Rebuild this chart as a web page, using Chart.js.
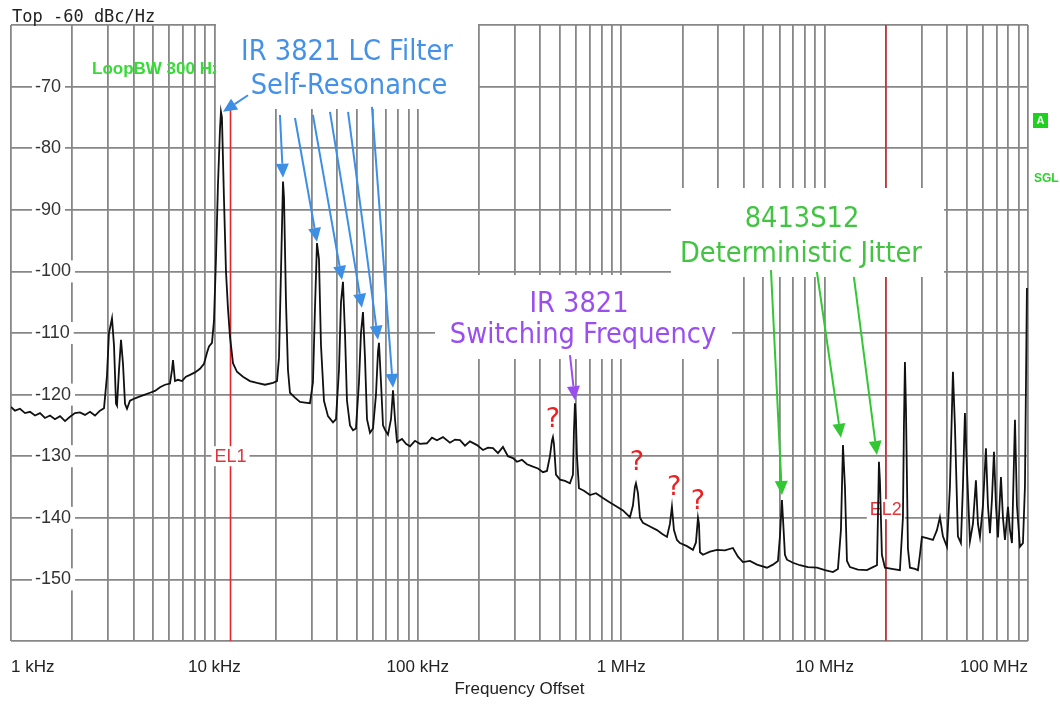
<!DOCTYPE html>
<html lang="en">
<head>
<meta charset="UTF-8">
<title>Phase noise – Frequency Offset</title>
<script src="https://cdn.jsdelivr.net/npm/chart.js"></script>
<style>
  html, body { margin: 0; padding: 0; background: #fff; }
  #wrap { width: 1060px; height: 704px; position: relative; }
</style>
</head>
<body>
<div id="wrap"><canvas id="pn"></canvas></div>
<script>
// trace: offset frequency (Hz) and level (dBc/Hz)
const freqHz = [
  1000, 1046, 1107, 1172, 1240, 1312, 1389, 1469, 1555, 1645, 1742, 1843, 1950, 2063, 2183, 2311, 2446, 2588, 2738, 2866,
  2963, 3032, 3137, 3209, 3283, 3320, 3396, 3474, 3553, 3635, 3718, 3846, 4070, 4307, 4558, 4824, 5104, 5402, 5716, 6048,
  6187, 6258, 6401, 6622, 6930, 7245, 7586, 8026, 8493, 8889, 9193, 9405, 9730, 9952, 10180, 10410, 10650, 10770, 10890, 11140,
  11400, 11660, 11930, 12340, 12910, 13820, 14960, 16190, 17730, 19410, 20310, 20780, 21250, 21740, 21990, 22490, 23000, 23530, 24890, 26350,
  27880, 29500, 30520, 31220, 31940, 32670, 33420, 34570, 36170, 38280, 39600, 40970, 41910, 42870, 43850, 44860, 46410, 48010, 49660, 51380,
  52550, 53770, 55000, 56260, 58200, 60210, 62290, 63720, 64450, 65920, 67440, 68990, 71370, 73830, 75520, 77250, 79030, 83630, 87490, 91530,
  96850, 102500, 110900, 117400, 124200, 133000, 143900, 152300, 161200, 170600, 180500, 195400, 209100, 221300, 234200, 247800, 262200, 277500, 293700, 307300,
  325200, 344200, 368300, 389700, 412400, 431500, 446400, 456600, 461800, 467100, 477800, 500000, 529100, 559900, 579100, 585700, 592400, 599100, 606000, 619900,
  656000, 702200, 751600, 813400, 880600, 953200, 1020000, 1104000, 1142000, 1168000, 1182000, 1209000, 1237000, 1279000, 1385000, 1499000, 1586000, 1679000, 1736000, 1776000,
  1817000, 1880000, 1945000, 2105000, 2253000, 2331000, 2385000, 2412000, 2439000, 2523000, 2732000, 2956000, 3236000, 3543000, 3750000, 3967000, 4296000, 4650000, 5207000, 5572000,
  5897000, 6032000, 6170000, 6240000, 6383000, 6530000, 6989000, 7565000, 8283000, 9170000, 10040000, 10990000, 11630000, 12030000, 12310000, 12590000, 12880000, 13320000, 14580000, 16150000,
  17290000, 18090000, 18290000, 18500000, 18710000, 19130000, 19800000, 21430000, 23460000, 24270000, 24550000, 24830000, 25110000, 25690000, 26280000, 27810000, 28770000, 29420000, 30100000, 31850000,
  34090000, 35670000, 36900000, 38170000, 39940000, 41320000, 42750000, 43720000, 45230000, 46790000, 47860000, 48970000, 50090000, 51830000, 53610000, 55460000, 56740000, 58050000, 60050000, 62120000,
  63540000, 65000000, 66490000, 68020000, 69580000, 71170000, 73630000, 75320000, 77040000, 79700000, 81530000, 83400000, 86280000, 88250000, 91290000, 94430000, 96590000, 98800000
];
const levelDbc = [
  -122.0, -122.6, -122.3, -123.0, -122.8, -123.4, -123.0, -123.8, -123.4, -124.0, -123.5, -124.3, -123.6, -123.0, -122.9, -123.3, -122.8, -123.4, -122.6, -122.2,
  -117.0, -110.0, -107.6, -112.0, -121.5, -121.8, -116.0, -111.1, -115.0, -121.5, -122.3, -121.0, -120.6, -120.3, -120.0, -119.7, -119.4, -118.8, -118.4, -118.2,
  -116.0, -114.4, -117.8, -117.6, -117.8, -117.1, -116.8, -116.4, -115.8, -115.0, -113.2, -112.2, -111.6, -108.0, -98.0, -86.0, -77.0, -74.1, -75.0, -88.0,
  -100.0, -106.0, -110.6, -114.9, -116.3, -117.1, -117.8, -118.1, -118.4, -118.1, -117.8, -114.0, -100.0, -85.4, -88.0, -105.0, -116.0, -119.7, -120.5, -121.2,
  -121.3, -121.4, -118.0, -106.0, -95.4, -98.0, -112.0, -121.0, -123.5, -124.5, -124.0, -116.0, -105.0, -101.7, -110.0, -121.0, -125.0, -125.8, -125.5, -118.0,
  -110.0, -106.6, -114.0, -124.0, -126.2, -125.5, -120.0, -113.0, -111.6, -118.0, -125.0, -125.7, -126.5, -124.0, -119.3, -124.0, -127.7, -127.2, -128.0, -128.4,
  -127.5, -128.0, -127.9, -127.0, -127.4, -126.9, -127.8, -127.3, -127.4, -128.3, -127.6, -128.2, -129.0, -128.6, -128.7, -129.5, -128.5, -130.0, -130.3, -130.9,
  -130.6, -131.3, -131.7, -132.0, -132.6, -132.4, -130.0, -127.5, -126.9, -128.0, -133.0, -133.8, -134.0, -134.4, -133.0, -126.0, -121.4, -124.0, -130.0, -135.2,
  -135.6, -136.3, -136.0, -136.8, -137.5, -138.2, -138.8, -139.9, -138.0, -135.0, -134.4, -136.0, -140.0, -140.8, -141.4, -142.0, -142.6, -143.1, -141.0, -138.2,
  -142.0, -143.6, -144.1, -144.6, -145.2, -144.0, -140.0, -141.0, -145.6, -146.0, -145.5, -145.2, -145.3, -144.9, -146.3, -147.2, -147.0, -147.6, -148.1, -147.6,
  -147.0, -143.0, -137.1, -140.0, -146.0, -146.8, -147.3, -147.7, -148.0, -148.1, -148.5, -148.8, -148.3, -142.0, -128.2, -135.0, -147.0, -148.0, -148.4, -148.5,
  -148.0, -147.7, -140.0, -130.9, -134.0, -146.0, -148.1, -148.3, -148.5, -140.0, -125.0, -114.7, -122.0, -145.0, -148.1, -148.3, -148.5, -146.0, -143.1, -143.3,
  -143.6, -142.0, -139.9, -143.0, -144.7, -135.0, -116.3, -125.0, -143.0, -144.1, -135.0, -123.0, -132.0, -143.8, -141.0, -133.9, -141.0, -143.1, -138.0, -128.7,
  -138.0, -142.5, -137.0, -129.3, -138.0, -143.2, -133.4, -140.0, -143.6, -138.2, -142.0, -144.1, -124.1, -138.0, -144.7, -144.1, -135.0, -102.7
];

// axis labelling
const decadeTicks = [1e3, 1e4, 1e5, 1e6, 1e7, 1e8];
const decadeLabels = ['1 kHz', '10 kHz', '100 kHz', '1 MHz', '10 MHz', '100 MHz'];
const levelMin = -160;
const levelMax = -60;

// integration markers
const markerFreqs = [12e3, 20e6];
const markerNames = ['EL1', 'EL2'];
const markerLabelDb = [-130, -138.6];

// annotation arrows, [tail Hz, tail dB, head Hz, head dB]
const lcArrows = [
  [14630, -71.4, 11020, -74.1],
  [21000, -74.6, 21740, -84.8],
  [24900, -75.1, 31940, -95.2],
  [30500, -74.6, 42400, -101.4],
  [37000, -74.1, 53100, -105.9],
  [45400, -74.1, 63700, -111.1],
  [59500, -73.3, 75500, -118.9]
];
const swArrows = [[560000, -113.6, 592400, -120.9]];
const jitterArrows = [
  [5450000, -99.8, 6170000, -136.3],
  [9170000, -100.1, 12030000, -127.0],
  [13930000, -100.9, 18090000, -129.8]
];
// unexplained spurs ("?"), centre of the mark
const qFreqs = [462000, 1195000, 1820000, 2385000];
const qDb = [-124.1, -131.1, -135.2, -137.4];

const SANS = '"Liberation Sans", Arial, sans-serif';
const VERD = '"DejaVu Sans", Verdana, sans-serif';

// white patches behind the callouts (canvas px: x, y, w, h)
const patches = [
  [216, 0, 262, 109],
  [671, 188, 273, 89],
  [435, 275, 297, 84]
];

const gridFreqs = [];
for (let d = 1e3; d < 1e8; d *= 10) {
  for (let m = 1; m < 10; m++) gridFreqs.push(m * d);
}
gridFreqs.push(1e8);

function yLabel(v) {
  return (v === levelMin || v === levelMax) ? '' : String(v);
}

function arrow(ctx, x1, y1, x2, y2, color) {
  const a = Math.atan2(y2 - y1, x2 - x1);
  const head = 14, half = 6.5;
  const bx = x2 - head * Math.cos(a), by = y2 - head * Math.sin(a);
  ctx.strokeStyle = color;
  ctx.fillStyle = color;
  ctx.lineWidth = 2;
  ctx.beginPath();
  ctx.moveTo(x1, y1);
  ctx.lineTo(bx, by);
  ctx.stroke();
  ctx.beginPath();
  ctx.moveTo(x2, y2);
  ctx.lineTo(bx + half * Math.sin(a), by - half * Math.cos(a));
  ctx.lineTo(bx - half * Math.sin(a), by + half * Math.cos(a));
  ctx.closePath();
  ctx.fill();
}

function callout(ctx, text, cx, base, color) {
  ctx.save();
  ctx.translate(cx, base);
  ctx.scale(0.92, 1);
  ctx.font = '28px ' + VERD;
  ctx.fillStyle = color;
  ctx.textAlign = 'center';
  ctx.textBaseline = 'alphabetic';
  ctx.fillText(text, 0, 0);
  ctx.restore();
}

const overlay = {
  id: 'overlay',
  beforeDatasetsDraw(chart) {
    const {ctx, chartArea: area, scales: {x, y}} = chart;
    ctx.save();
    // EL markers
    ctx.strokeStyle = '#e3262e';
    ctx.lineWidth = 1.6;
    markerFreqs.forEach(f => {
      const px = x.getPixelForValue(f);
      ctx.beginPath();
      ctx.moveTo(px, area.top);
      ctx.lineTo(px, area.bottom);
      ctx.stroke();
    });
    ctx.font = 'bold 17px ' + SANS;
    ctx.fillStyle = '#36dc36';
    ctx.textBaseline = 'alphabetic';
    ctx.fillText('LoopBW 300 Hz', 92, 74);

    ctx.fillStyle = '#fff';
    patches.forEach(p => ctx.fillRect(p[0], p[1], p[2], p[3]));

    // backdrops under the level labels
    ctx.font = '18px ' + SANS;
    y.ticks.forEach(t => {
      const s = yLabel(t.value);
      if (!s) return;
      const w = ctx.measureText(s).width;
      const py = y.getPixelForValue(t.value);
      ctx.fillRect(area.left + 21, py - 11, w + 7, 22);
    });

    // marker names
    ctx.font = '18px ' + SANS;
    ctx.textAlign = 'center';
    ctx.textBaseline = 'middle';
    markerFreqs.forEach((f, i) => {
      const px = x.getPixelForValue(f);
      const py = y.getPixelForValue(markerLabelDb[i]);
      const w = ctx.measureText(markerNames[i]).width;
      ctx.fillStyle = '#fff';
      ctx.fillRect(px - w / 2 - 3, py - 10, w + 6, 20);
      ctx.fillStyle = '#e3343c';
      ctx.fillText(markerNames[i], px, py + 1);
    });
    ctx.restore();
  },
  afterDraw(chart) {
    const {ctx, scales: {x, y}} = chart;
    const P = (f, db) => [x.getPixelForValue(f), y.getPixelForValue(db)];
    ctx.save();

    ctx.font = '17px "DejaVu Sans Mono", monospace';
    ctx.fillStyle = '#222';
    ctx.textBaseline = 'alphabetic';
    ctx.fillText('Top -60 dBc/Hz', 12, 22);

    callout(ctx, 'IR 3821 LC Filter', 347, 60, '#4391e8');
    callout(ctx, 'Self-Resonance', 349, 94, '#4391e8');
    callout(ctx, 'IR 3821', 579, 312, '#9a4ef0');
    callout(ctx, 'Switching Frequency', 583, 343, '#9a4ef0');
    callout(ctx, '8413S12', 802, 227, '#42c442');
    callout(ctx, 'Deterministic Jitter', 801, 262, '#42c442');

    const draw = (list, color) => list.forEach(a => {
      const [x1, y1] = P(a[0], a[1]);
      const [x2, y2] = P(a[2], a[3]);
      arrow(ctx, x1, y1, x2, y2, color);
    });
    draw(lcArrows, '#3d8fe6');
    draw(swArrows, '#9a4ef0');
    draw(jitterArrows, '#33c833');

    ctx.font = '27px ' + VERD;
    ctx.fillStyle = '#ec2020';
    ctx.textAlign = 'center';
    ctx.textBaseline = 'middle';
    qFreqs.forEach((f, i) => {
      const [px, py] = P(f, qDb[i]);
      ctx.fillText('?', px, py);
    });

    // instrument status flags on the right
    ctx.fillStyle = '#1fd11f';
    ctx.fillRect(1033, 113, 15, 15);
    ctx.fillStyle = '#fff';
    ctx.font = 'bold 11px ' + SANS;
    ctx.fillText('A', 1040.5, 121);
    ctx.fillStyle = '#2ed12e';
    ctx.font = 'bold 12px ' + SANS;
    ctx.textAlign = 'left';
    ctx.textBaseline = 'alphabetic';
    ctx.fillText('SGL', 1034, 182);
    ctx.restore();
  }
};

Chart.defaults.font.family = SANS;

new Chart(document.getElementById('pn'), {
  type: 'line',
  data: {
    datasets: [{
      data: freqHz.map((f, i) => ({x: f, y: levelDbc[i]})),
      borderColor: '#111',
      borderWidth: 1.8,
      pointRadius: 0,
      tension: 0,
      fill: false
    }]
  },
  options: {
    responsive: true,
    maintainAspectRatio: false,
    animation: false,
    layout: {autoPadding: false, padding: {left: 11, right: 32, top: 25, bottom: 2}},
    plugins: {legend: {display: false}, tooltip: {enabled: false}},
    scales: {
      x: {
        type: 'logarithmic',
        min: 1e3,
        max: 1e8,
        afterBuildTicks: s => { s.ticks = gridFreqs.map(v => ({value: v})); },
        afterFit: s => { s.height = 61; s.paddingLeft = 0; s.paddingRight = 0; },
        grid: {color: '#878787', lineWidth: 1.8, drawTicks: false},
        border: {display: false},
        ticks: {
          z: 1,
          align: 'inner',
          autoSkip: false,
          maxRotation: 0,
          padding: 16,
          color: '#222',
          font: {size: 17},
          callback: v => {
            const i = decadeTicks.indexOf(v);
            return i >= 0 ? decadeLabels[i] : '';
          }
        },
        title: {display: true, text: 'Frequency Offset', color: '#222', font: {size: 17}, padding: {top: 2, bottom: 2}}
      },
      y: {
        type: 'linear',
        position: 'left',
        min: levelMin,
        max: levelMax,
        afterFit: s => { s.width = 0; s.paddingTop = 0; s.paddingBottom = 0; },
        grid: {color: '#878787', lineWidth: 1.8, drawTicks: false},
        border: {display: false},
        ticks: {
          z: 1,
          stepSize: 10,
          mirror: true,
          padding: 24,
          color: '#333',
          font: {size: 18},
          callback: v => yLabel(v)
        }
      }
    }
  },
  plugins: [overlay]
});
</script>
</body>
</html>
